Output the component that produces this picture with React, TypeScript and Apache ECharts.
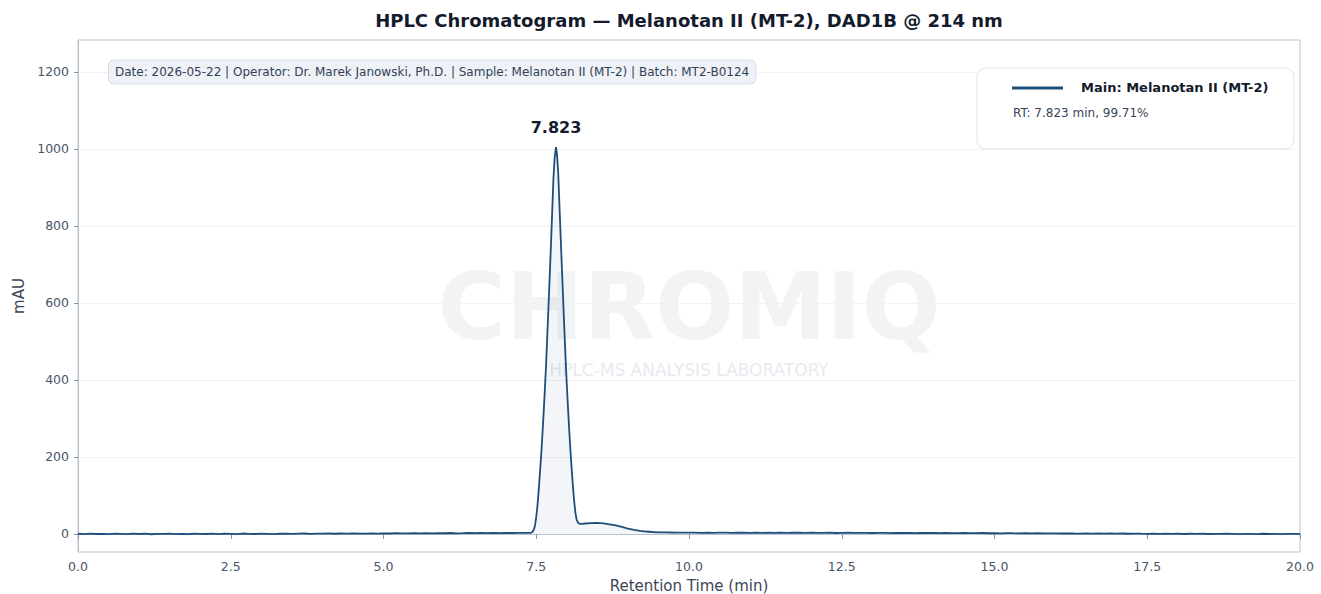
import React, { useEffect, useRef } from "react";
import * as echarts from "echarts";

const TITLE = "HPLC Chromatogram — Melanotan II (MT-2), DAD1B @ 214 nm";
const INFO_TEXT =
  "Date: 2026-05-22 | Operator: Dr. Marek Janowski, Ph.D. | Sample: Melanotan II (MT-2) | Batch: MT2-B0124";
const LEGEND_NAME = "Main: Melanotan II (MT-2)";
const LEGEND_SUB = "RT: 7.823 min, 99.71%";
const WATERMARK = "CHROMIQ";
const WATERMARK_SUB = "HPLC-MS ANALYSIS LABORATORY";
const X_NAME = "Retention Time (min)";
const Y_NAME = "mAU";

const PEAK_RT = 7.823;
const PEAK_HEIGHT = 1005;

const Y_TICKS = [0, 200, 400, 600, 800, 1000, 1200];

// baseline before the peak: 0.0 .. 7.3 min, every 0.1 min
const PRE_START = 0.0;
const preValues = [
  0.4, -0.6, 0.9, -0.3, 0.2, -0.8, 0.5, 0.1, -0.4, 0.7,
  -0.2, 0.6, -0.9, 0.3, 0.0, 0.8, -0.5, 0.2, -0.7, 0.4,
  0.1, -0.3, 0.9, -0.6, 0.5, 0.2, -0.4, 1.0, 0.3, -0.2,
  0.6, 0.0, -0.7, 0.4, 0.9, -0.1, 0.5, 1.1, 0.2, 0.8,
  0.7, 1.3, 0.4, 1.0, 0.6, 1.4, 0.9, 0.5, 1.2, 0.8,
  1.5, 1.0, 1.8, 1.2, 1.6, 2.1, 1.3, 1.9, 1.4, 2.2,
  1.7, 2.3, 1.6, 2.0, 2.5, 1.8, 2.4, 2.0, 2.6, 2.2,
  2.7, 2.3, 2.9, 2.6,
];

// main peak region
const peakTimes = [
  7.4, 7.42, 7.44, 7.46, 7.48, 7.5, 7.52, 7.54, 7.56, 7.58,
  7.6, 7.62, 7.64, 7.66, 7.68, 7.7, 7.72, 7.74, 7.76, 7.78,
  7.8, 7.823, 7.84, 7.86, 7.88, 7.9, 7.92, 7.94, 7.96, 7.98,
  8.0, 8.02, 8.04, 8.06, 8.08, 8.1, 8.12, 8.14, 8.16, 8.18,
  8.2, 8.22, 8.25,
];
const peakValues = [
  2.5, 3.5, 5.5, 11, 22, 44, 74, 113, 158, 203,
  255, 312, 372, 436, 512, 590, 668, 748, 832, 918,
  975, 1005, 985, 935, 852, 770, 690, 610, 532, 456,
  388, 326, 268, 216, 168, 124, 86, 56, 38, 30,
  27, 26, 26,
];

// tailing shoulder: 8.3 .. 9.6 min, every 0.1 min
const TAIL_START = 8.3;
const tailValues = [27, 28, 28.5, 27.5, 25, 22, 18, 14, 10.5, 8, 6.2, 5, 4.2, 3.8];

// baseline after the peak: 9.7 .. 20.0 min, every 0.1 min
const POST_START = 9.7;
const postValues = [
  3.6, 3.2, 3.5,
  3.1, 3.4, 2.9, 3.3, 2.8, 3.2, 3.5, 2.7, 3.0, 3.3,
  2.9, 3.4, 2.6, 3.1, 2.8, 3.3, 2.5, 3.0, 3.2, 2.7,
  3.0, 2.6, 2.9, 3.2, 2.4, 2.8, 3.1, 2.5, 2.9, 2.7,
  2.3, 2.8, 2.6, 2.2, 2.7, 2.4, 2.9, 2.1, 2.5, 2.3,
  2.6, 2.0, 2.4, 2.2, 1.8, 2.5, 2.1, 1.9, 2.3, 1.7,
  2.0, 1.6, 2.2, 1.8, 1.5, 1.9, 1.4, 1.7, 1.2, 1.6,
  1.3, 1.0, 1.5, 1.1, 0.8, 1.3, 0.9, 1.2, 0.6, 1.0,
  0.7, 1.1, 0.4, 0.9, 0.5, 0.2, 0.8, 0.3, 0.6, 0.1,
  0.5, -0.2, 0.4, 0.0, 0.6, -0.3, 0.3, -0.1, 0.5, 0.2,
  -0.4, 0.3, 0.0, -0.5, 0.4, -0.2, 0.1, -0.6, 0.3, -0.1,
  0.2,
];

function onGrid(start: number, values: number[]): [number, number][] {
  return values.map((v, i) => [Math.round((start + i * 0.1) * 100) / 100, v]);
}

const FONT = "DejaVu Sans";

export default function App() {
  const ref = useRef<HTMLDivElement>(null);

  useEffect(() => {
    document.body.style.margin = "0";
    if (!ref.current) return;
    const chart = echarts.init(ref.current, undefined, { renderer: "svg" });

    const data: [number, number][] = [
      ...onGrid(PRE_START, preValues),
      ...peakTimes.map((t, i) => [t, peakValues[i]] as [number, number]),
      ...onGrid(TAIL_START, tailValues),
      ...onGrid(POST_START, postValues),
    ];

    const axisColor = "#b9c2d2";
    const labelColor = "#4a5568";

    chart.setOption({
      animation: false,
      textStyle: { fontFamily: FONT },
      grid: {
        left: 78,
        right: 21,
        top: 40,
        bottom: 42,
        containLabel: false,
        outerBoundsMode: "none",
        show: true,
        borderColor: axisColor,
        borderWidth: 1,
        backgroundColor: "transparent",
      },
      xAxis: {
        type: "value",
        min: 0,
        max: 20,
        interval: 2.5,
        name: X_NAME,
        nameLocation: "middle",
        nameGap: 26,
        nameTextStyle: {
          fontSize: 15,
          lineHeight: 16,
          color: "#3a4556",
          fontFamily: FONT,
        },
        axisLine: { show: true, lineStyle: { color: axisColor, width: 1 } },
        axisTick: { show: true, length: 5, lineStyle: { color: "#8a94a6" } },
        axisLabel: {
          color: labelColor,
          fontSize: 12.5,
          margin: 8,
          fontFamily: FONT,
          formatter: (v: number) => v.toFixed(1),
        },
        splitLine: { show: false },
      },
      yAxis: {
        type: "value",
        min: -47,
        max: 1283,
        name: Y_NAME,
        nameLocation: "middle",
        nameGap: 42,
        nameTextStyle: { fontSize: 15, color: "#3a4556", fontFamily: FONT },
        axisLine: { show: true, lineStyle: { color: axisColor, width: 1 } },
        axisTick: {
          show: true,
          length: 4,
          customValues: Y_TICKS,
          lineStyle: { color: "#8a94a6" },
        },
        axisLabel: {
          color: labelColor,
          fontSize: 12.5,
          margin: 9,
          fontFamily: FONT,
          customValues: Y_TICKS,
          formatter: (v: number) => String(Math.round(v)),
        },
        splitLine: { show: true, lineStyle: { color: "#f0f2f5", width: 1 } },
      },
      graphic: [
        {
          type: "text",
          x: 689,
          y: 307,
          z: -10,
          silent: true,
          style: {
            text: WATERMARK,
            fontFamily: FONT,
            fontWeight: "bold",
            fontSize: 93,
            lineHeight: 80,
            fill: "#f2f3f5",
            align: "center",
            verticalAlign: "middle",
          },
        },
        {
          type: "text",
          x: 689,
          y: 370,
          z: -10,
          silent: true,
          style: {
            text: WATERMARK_SUB,
            fontFamily: FONT,
            fontSize: 17,
            lineHeight: 18,
            fill: "#e7eaef",
            align: "center",
            verticalAlign: "middle",
          },
        },
        {
          type: "text",
          x: 689,
          y: 20,
          style: {
            text: TITLE,
            fontFamily: FONT,
            fontWeight: "bold",
            fontSize: 18,
            fill: "#141b2d",
            align: "center",
            verticalAlign: "middle",
          },
        },
        {
          type: "text",
          x: 109,
          y: 72,
          z: 10,
          style: {
            text: INFO_TEXT,
            fontFamily: FONT,
            fontSize: 12,
            fill: "#334155",
            align: "left",
            verticalAlign: "middle",
            backgroundColor: "#eef2f7",
            borderColor: "#d5dde8",
            borderWidth: 1,
            borderRadius: 5,
            padding: [6, 6, 5, 6],
          },
        },
        {
          type: "rect",
          z: 10,
          shape: { x: 977, y: 68, width: 317, height: 81, r: 9 },
          style: { fill: "#ffffff", stroke: "#dde3eb", lineWidth: 1 },
        },
        {
          type: "line",
          z: 11,
          shape: { x1: 1012, y1: 88, x2: 1063, y2: 88 },
          style: { stroke: "#1f4e79", lineWidth: 3 },
        },
        {
          type: "text",
          z: 11,
          x: 1081,
          y: 87,
          style: {
            text: LEGEND_NAME,
            fontFamily: FONT,
            fontWeight: "bold",
            fontSize: 13,
            fill: "#141b2d",
            align: "left",
            verticalAlign: "middle",
          },
        },
        {
          type: "text",
          z: 11,
          x: 1013,
          y: 113,
          style: {
            text: LEGEND_SUB,
            fontFamily: FONT,
            fontSize: 12,
            fill: "#3a4556",
            align: "left",
            verticalAlign: "middle",
          },
        },
      ],
      series: [
        {
          type: "line",
          name: LEGEND_NAME,
          data,
          showSymbol: false,
          symbol: "none",
          z: 3,
          lineStyle: { color: "#1f4e79", width: 1.8 },
          areaStyle: { color: "rgba(31,78,121,0.08)" },
          markPoint: {
            symbol: "circle",
            symbolSize: 0,
            data: [{ coord: [PEAK_RT, PEAK_HEIGHT] }],
            label: {
              show: true,
              position: "inside",
              offset: [0, -20],
              formatter: PEAK_RT.toFixed(3),
              fontFamily: FONT,
              fontWeight: "bold",
              fontSize: 16,
              color: "#141b2d",
            },
          },
        },
      ],
    });

    return () => chart.dispose();
  }, []);

  return <div ref={ref} style={{ width: 1321, height: 594 }} />;
}
